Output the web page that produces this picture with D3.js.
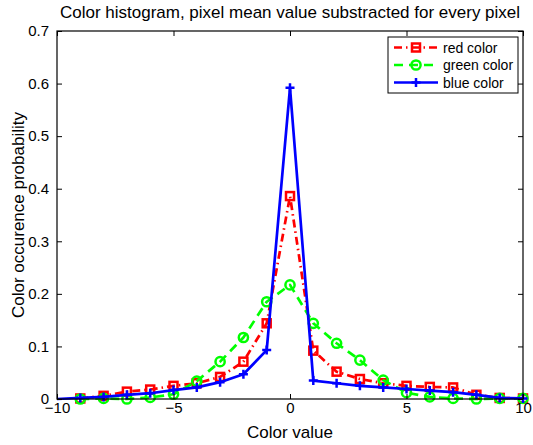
<!DOCTYPE html>
<html>
<head>
<meta charset="utf-8">
<script src="https://cdn.jsdelivr.net/npm/d3@7"></script>
<style>
  html, body { margin: 0; padding: 0; background: #fff; }
  svg { display: block; font-family: "Liberation Sans", Arial, Helvetica, sans-serif; }
</style>
</head>
<body>
<svg id="chart" width="533" height="445"></svg>
<script>
// Histogram bins (color value offsets)
const colorValues = [-9, -8, -7, -6, -5, -4, -3, -2, -1, 0, 1, 2, 3, 4, 5, 6, 7, 8, 9, 10];
const blueColorValues = [-10, -9, -8, -7, -6, -5, -4, -3, -2, -1, 0, 1, 2, 3, 4, 5, 6, 7, 8, 9, 10];

// Occurrence probability per channel
const redProb   = [0.001, 0.006, 0.014, 0.018, 0.025, 0.030, 0.042, 0.071, 0.144, 0.386,
                   0.092, 0.052, 0.038, 0.030, 0.025, 0.023, 0.022, 0.008, 0.002, 0.001];
const greenProb = [0.000, 0.001, 0.000, 0.003, 0.009, 0.034, 0.071, 0.117, 0.185, 0.217,
                   0.144, 0.106, 0.074, 0.036, 0.012, 0.004, 0.001, 0.000, 0.001, 0.001];
const blueProb  = [0.000, 0.002, 0.004, 0.008, 0.011, 0.017, 0.022, 0.032, 0.047, 0.093, 0.592,
                   0.035, 0.030, 0.025, 0.022, 0.019, 0.016, 0.013, 0.008, 0.002, 0.001];

const xTicks = [-10, -5, 0, 5, 10];
const yTicks = [0, 0.1, 0.2, 0.3, 0.4, 0.5, 0.6, 0.7];

const seriesNames = ["red color", "green color", "blue color"];

const svg = d3.select("#chart");
const margin = { left: 57, right: 10, top: 31, bottom: 46 };
const W = 533, H = 445;

const x = d3.scaleLinear().domain([-10, 10]).range([margin.left, W - margin.right]);
const y = d3.scaleLinear().domain([0, 0.7]).range([H - margin.bottom, margin.top]);

const fmtX = d => (d < 0 ? "\u2212" + Math.abs(d) : String(d));
const fmtY = d => (d === 0 ? "0" : d3.format(".1f")(d));

// Series definitions
const series = [
  { name: seriesNames[0], xs: colorValues, ys: redProb, color: "#ff0000", dash: "8,4,1.5,4", marker: "square", firstMarker: 0 },
  { name: seriesNames[1], xs: colorValues, ys: greenProb, color: "#00ff00", dash: "9,6", marker: "circle", firstMarker: 0 },
  { name: seriesNames[2], xs: blueColorValues, ys: blueProb, color: "#0000ff", dash: null, marker: "plus", firstMarker: 1 }
];

function drawMarker(g, type, cx, cy, color) {
  if (type === "square") {
    g.append("rect").attr("x", cx - 4).attr("y", cy - 4).attr("width", 8).attr("height", 8)
      .attr("fill", "none").attr("stroke", color).attr("stroke-width", 2.5);
  } else if (type === "circle") {
    g.append("circle").attr("cx", cx).attr("cy", cy).attr("r", 4.6)
      .attr("fill", "none").attr("stroke", color).attr("stroke-width", 2.5);
  } else {
    g.append("path").attr("d", `M${cx - 4.5},${cy}H${cx + 4.5}M${cx},${cy - 4.5}V${cy + 4.5}`)
      .attr("stroke", color).attr("stroke-width", 2.5).attr("fill", "none");
  }
}

const line = d3.line().x(d => x(d[0])).y(d => y(d[1]));

const plot = svg.append("g");
series.forEach(s => {
  const pts = s.xs.map((v, i) => [v, s.ys[i]]);
  plot.append("path").datum(pts).attr("d", line)
    .attr("fill", "none").attr("stroke", s.color).attr("stroke-width", 2.7)
    .attr("stroke-dasharray", s.dash).attr("stroke-linejoin", "round");
  const mg = plot.append("g");
  pts.forEach((p, i) => {
    if (i >= s.firstMarker) drawMarker(mg, s.marker, x(p[0]), y(p[1]), s.color);
  });
});

// Axes box with inward ticks on all four sides
const axisColor = "#000";
const tickLen = 5;
const axes = svg.append("g").attr("class", "axes");

const bottomAxis = d3.axisBottom(x).tickValues(xTicks).tickFormat(fmtX).tickSizeInner(-tickLen).tickSizeOuter(0).tickPadding(3);
const topAxis = d3.axisTop(x).tickValues(xTicks).tickFormat("").tickSizeInner(-tickLen).tickSizeOuter(0);
const leftAxis = d3.axisLeft(y).tickValues(yTicks).tickFormat(fmtY).tickSizeInner(-tickLen).tickSizeOuter(0).tickPadding(8);
const rightAxis = d3.axisRight(y).tickValues(yTicks).tickFormat("").tickSizeInner(-tickLen).tickSizeOuter(0);

function styleAxis(g) {
  g.select(".domain").remove();
  g.selectAll("line").attr("stroke", axisColor).attr("stroke-width", 1);
  g.selectAll("text").attr("fill", "#000").attr("font-size", 15)
    .attr("font-family", "'Liberation Sans', Arial, sans-serif");
}

axes.append("g").attr("transform", `translate(0,${y(0)})`).call(bottomAxis).call(styleAxis)
  .selectAll("text").attr("dy", "0.71em");
axes.append("g").attr("transform", `translate(0,${y(0.7)})`).call(topAxis).call(styleAxis);
axes.append("g").attr("transform", `translate(${x(-10)},0)`).call(leftAxis).call(styleAxis);
axes.append("g").attr("transform", `translate(${x(10)},0)`).call(rightAxis).call(styleAxis);

axes.append("rect")
  .attr("x", x(-10)).attr("y", y(0.7))
  .attr("width", x(10) - x(-10)).attr("height", y(0) - y(0.7))
  .attr("fill", "none").attr("stroke", axisColor).attr("stroke-width", 1.2);

// Title and axis labels
svg.append("text").attr("x", (x(-10) + x(10)) / 2).attr("y", 18)
  .attr("text-anchor", "middle").attr("font-size", 17)
  .text("Color histogram, pixel mean value substracted for every pixel");

svg.append("text").attr("x", (x(-10) + x(10)) / 2).attr("y", 438)
  .attr("text-anchor", "middle").attr("font-size", 17)
  .text("Color value");

svg.append("text")
  .attr("transform", `translate(24,${(y(0) + y(0.7)) / 2}) rotate(-90)`)
  .attr("text-anchor", "middle").attr("font-size", 17)
  .text("Color occurence probability");

// Legend
const legend = svg.append("g").attr("transform", "translate(388,37)");
legend.append("rect").attr("x", 0).attr("y", 0).attr("width", 130).attr("height", 56)
  .attr("fill", "#fff").attr("stroke", "#000").attr("stroke-width", 1);
series.forEach((s, i) => {
  const cy = 10.5 + i * 17.5;
  legend.append("line").attr("x1", 6).attr("x2", 50).attr("y1", cy).attr("y2", cy)
    .attr("stroke", s.color).attr("stroke-width", 2.7).attr("stroke-dasharray", s.dash);
  drawMarker(legend, s.marker, 28, cy, s.color);
  legend.append("text").attr("x", 55).attr("y", cy + 5).attr("font-size", 14).text(s.name);
});
</script>
</body>
</html>
